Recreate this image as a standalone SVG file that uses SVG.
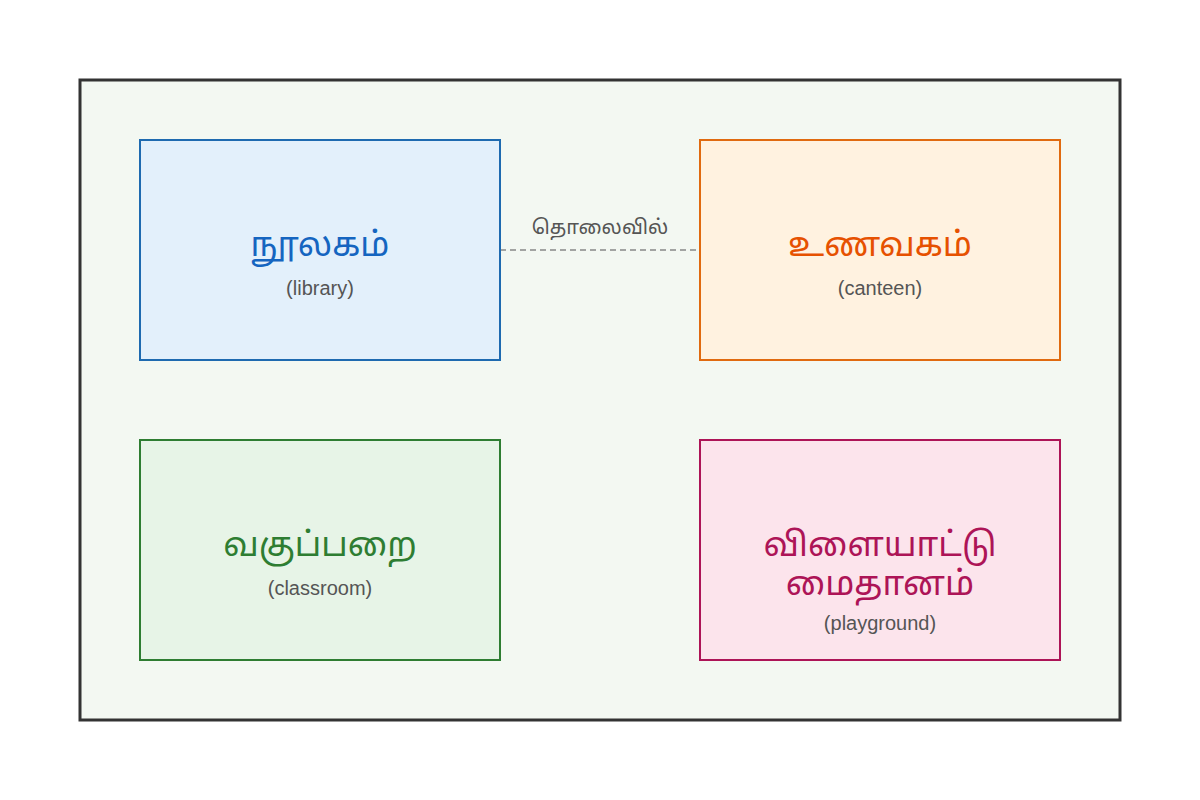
<svg xmlns="http://www.w3.org/2000/svg" width="1200" height="800" viewBox="0 0 1200 800">
<style>
.t{font-family:"Liberation Sans","Noto Sans Tamil","Noto Sans Tamil UI","Lohit Tamil",sans-serif;text-anchor:middle}
.title{font-size:34px}
.sub{font-size:20px;fill:#555}
.box{stroke-width:2}
</style>
<rect width="1200" height="800" fill="#ffffff"/>
<rect id="frame" x="80" y="80" width="1040" height="640" fill="#f3f8f2" stroke="#333333" stroke-width="3"/>
<g id="connectors">
<line x1="500" y1="250" x2="700" y2="250" stroke="#888888" stroke-width="1.5" stroke-dasharray="6 4"/>
<text class="t" x="600" y="234" font-size="20" fill="#555555">தொலைவில்</text>
</g>
<g id="library">
<rect class="box" x="140" y="140" width="360" height="220" fill="#e3f0fb" stroke="#1e6ab0"/>
<text class="t title" x="320" y="256" fill="#1565c0">நூலகம்</text>
<text class="t sub" x="320" y="295">(library)</text>
</g>
<g id="canteen">
<rect class="box" x="700" y="140" width="360" height="220" fill="#fff2e0" stroke="#e06a10"/>
<text class="t title" x="880" y="256" fill="#e65100">உணவகம்</text>
<text class="t sub" x="880" y="295">(canteen)</text>
</g>
<g id="classroom">
<rect class="box" x="140" y="440" width="360" height="220" fill="#e7f4e7" stroke="#2e7d32"/>
<text class="t title" x="320" y="556" fill="#2e7d32">வகுப்பறை</text>
<text class="t sub" x="320" y="595">(classroom)</text>
</g>
<g id="playground">
<rect class="box" x="700" y="440" width="360" height="220" fill="#fce4ec" stroke="#ad1457"/>
<text class="t title" x="880" y="556" fill="#ad1457">விளையாட்டு</text>
<text class="t title" x="880" y="595" fill="#ad1457">மைதானம்</text>
<text class="t sub" x="880" y="630">(playground)</text>
</g>
</svg>
